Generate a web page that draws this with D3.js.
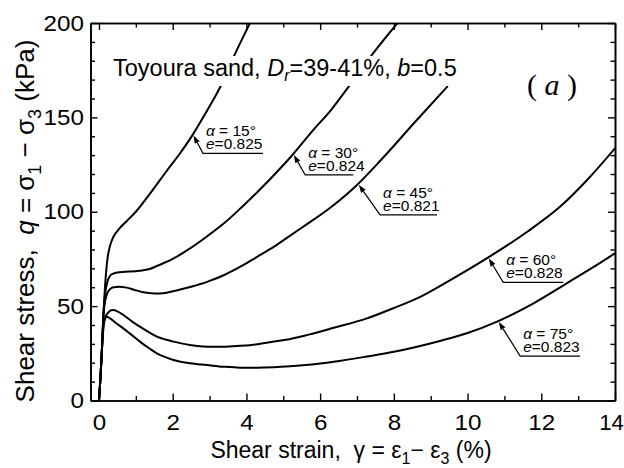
<!DOCTYPE html>
<html>
<head>
<meta charset="utf-8">
<script src="https://cdn.jsdelivr.net/npm/d3@7"></script>
<style>
  body { margin: 0; background: #fff; }
  svg { display: block; }
  text { white-space: pre; }
</style>
</head>
<body>
<svg id="chart" width="624" height="468"></svg>
<script>
// Shear strain (%) and shear stress q (kPa) for each principal-stress direction α
const strain15 = [0, 0.04, 0.08, 0.12, 0.17, 0.23, 0.3, 0.4, 0.55, 0.75, 1.0, 1.4, 1.85, 2.2, 2.55, 2.9, 3.3, 3.7, 4.1];
const stress15 = [0, 12, 27, 45, 62, 75, 82, 87, 91, 95, 100, 110, 122, 131, 141, 152.5, 166.5, 184, 200];

const strain30 = [0, 0.04, 0.08, 0.12, 0.17, 0.23, 0.3, 0.4, 0.57, 0.8, 1.1, 1.35, 1.6, 2.0, 2.45, 2.9, 3.4, 3.85, 4.3, 4.75, 5.2, 5.8, 6.3, 6.8, 7.4, 8.1];
const stress30 = [0, 12, 27, 45, 57, 63, 66, 67.3, 68, 68.3, 68.8, 69.5, 71.5, 75, 80.3, 86.5, 94, 102, 110.5, 119.5, 129, 143, 154, 167, 183, 200];

const strain45 = [0, 0.04, 0.08, 0.12, 0.17, 0.23, 0.3, 0.4, 0.55, 0.75, 0.95, 1.2, 1.5, 1.8, 2.1, 2.5, 2.95, 3.4, 3.85, 4.3, 4.75, 5.2, 5.5, 6.3, 7.0, 7.65, 8.55, 9.45];
const stress45 = [0, 12, 27, 45, 53, 57, 59, 60, 60.3, 59.8, 58.7, 57.3, 56.7, 57, 58.3, 60.3, 63, 66.5, 71, 76.2, 81.5, 87.5, 91.5, 102.5, 114.2, 127.4, 147, 166.3];

const strain60 = [0, 0.04, 0.08, 0.12, 0.17, 0.25, 0.33, 0.4, 0.5, 0.66, 0.9, 1.11, 1.35, 1.57, 1.8, 2.02, 2.47, 2.93, 3.38, 3.83, 4.29, 4.74, 5.19, 5.69, 6.37, 7.27, 8.0, 8.63, 9.53, 10.52, 11.62, 12.53, 13.3, 14.0];
const stress60 = [0, 12, 27, 40, 44, 46.5, 47.8, 47.9, 47.2, 45.3, 41.8, 39.1, 36.2, 33.8, 32.3, 31.2, 29.4, 28.5, 28.5, 29, 29.8, 31.2, 32.6, 34.9, 38.5, 43.5, 49, 54.1, 63.8, 75.3, 89.4, 103, 118, 133.6];

const strain75 = [0, 0.04, 0.08, 0.12, 0.16, 0.21, 0.3, 0.45, 0.66, 0.9, 1.11, 1.35, 1.57, 1.8, 2.02, 2.47, 2.93, 3.38, 3.83, 4.29, 4.74, 5.19, 5.69, 6.37, 7.27, 8.0, 8.63, 9.3, 9.98, 10.8, 11.79, 12.69, 13.4, 14.0];
const stress75 = [0, 12, 27, 38, 43, 44.4, 43.5, 41.2, 38.2, 34.5, 31.2, 27.8, 25, 23, 21.5, 19.7, 18.8, 17.9, 17.4, 17.4, 17.6, 18.1, 18.9, 20.5, 23.3, 25.8, 28.5, 31.8, 35.6, 41.8, 51.5, 62.1, 70.5, 78];

// Callout labels: angle α (deg), void ratio e, and the strain where each arrow meets its curve
const calloutAlpha = ["15", "30", "45", "60", "75"];
const calloutVoid = ["0.825", "0.824", "0.821", "0.828", "0.823"];
const calloutStrain = [2.55, 5.27, 7.03, 10.56, 10.83];

// Tick values
const xMajorTicks = [0, 2, 4, 6, 8, 10, 12, 14];
const xMinorTicks = [1, 3, 5, 7, 9, 11, 13];
const yMajorTicks = [0, 50, 100, 150, 200];
const yMinorTicks = [10, 20, 30, 40, 60, 70, 80, 90, 110, 120, 130, 140, 160, 170, 180, 190];

// Callout geometry: leader offset (dx, dy) from the curve to the underline, underline length
const calloutLayout = [[10, 19, 60], [12, 21, 48], [22, 31, 57], [15, 25, 60], [22, 35, 60]];

const series = [
  { strain: strain15, stress: stress15 },
  { strain: strain30, stress: stress30 },
  { strain: strain45, stress: stress45 },
  { strain: strain60, stress: stress60 },
  { strain: strain75, stress: stress75 }
].map(s => ({ points: s.strain.map((v, i) => [v, s.stress[i]]) }));

const SANS = "'Liberation Sans', Arial, Helvetica, sans-serif";
const SERIF = "'Liberation Serif', 'Times New Roman', serif";

const svg = d3.select("#chart");
const plotLeft = 90.5, plotRight = 615, plotTop = 23, plotBottom = 400.5;

const x = d3.scaleLinear().domain([-0.23, 14]).range([plotLeft, plotRight]);
const y = d3.scaleLinear().domain([0, 200]).range([plotBottom, plotTop]);

svg.append("rect").attr("width", 624).attr("height", 468).attr("fill", "#fff");

svg.append("defs").append("clipPath").attr("id", "plot-clip")
  .append("rect").attr("x", plotLeft).attr("y", plotTop)
  .attr("width", plotRight - plotLeft).attr("height", plotBottom - plotTop);

// Curves
const line = d3.line().x(d => x(d[0])).y(d => y(d[1])).curve(d3.curveMonotoneX);
svg.append("g").attr("clip-path", "url(#plot-clip)")
  .selectAll("path").data(series).join("path")
  .attr("d", d => line(d.points))
  .attr("fill", "none").attr("stroke", "#000").attr("stroke-width", 2)
  .attr("stroke-linejoin", "round").attr("stroke-linecap", "round");

// Title with an opaque backing so the curves pass behind it
const titleG = svg.append("g");
const titleBg = titleG.append("rect").attr("fill", "#fff");
const title = titleG.append("text").attr("x", 113).attr("y", 76)
  .attr("font-family", SANS).attr("font-size", 23.5).attr("fill", "#000");
title.append("tspan").text("Toyoura sand, ");
title.append("tspan").attr("font-style", "italic").text("D");
title.append("tspan").attr("font-style", "italic").attr("font-size", 16).attr("dy", 5).text("r");
title.append("tspan").attr("dy", -5).text("=39-41%, ");
title.append("tspan").attr("font-style", "italic").text("b");
title.append("tspan").text("=0.5");
const tb = title.node().getBBox();
titleBg.attr("x", tb.x - 3).attr("y", tb.y + 1).attr("width", tb.width + 6).attr("height", tb.height + 1);

// Panel tag
const tag = svg.append("text").attr("x", 527).attr("y", 95)
  .attr("font-family", SERIF).attr("font-size", 30).attr("fill", "#000");
tag.append("tspan").text("( ");
tag.append("tspan").attr("font-style", "italic").text("a");
tag.append("tspan").text(" )");

// Axes
function styleAxis(g, hideText) {
  g.attr("font-family", SANS).attr("font-size", 22);
  g.selectAll("path.domain").attr("stroke", "#000").attr("stroke-width", 1.6);
  g.selectAll(".tick line").attr("stroke", "#000").attr("stroke-width", 1.4);
  if (hideText) g.selectAll(".tick text").remove();
  else g.selectAll(".tick text").attr("fill", "#000").attr("transform", "scale(1.1,1)");
}

svg.append("g").attr("transform", `translate(0,${plotBottom})`)
  .call(d3.axisBottom(x).tickValues(xMajorTicks).tickSizeInner(-7).tickSizeOuter(0).tickPadding(14).tickFormat(d3.format("d")))
  .call(g => styleAxis(g, false))
  // keep the last label inside the frame edge
  .call(g => g.selectAll(".tick text").filter(d => d === 14).attr("transform", null).attr("dx", -4));
svg.append("g").attr("transform", `translate(0,${plotBottom})`)
  .call(d3.axisBottom(x).tickValues(xMinorTicks).tickSizeInner(-4.5).tickSizeOuter(0).tickFormat(""))
  .call(g => styleAxis(g, true));
svg.append("g").attr("transform", `translate(0,${plotTop})`)
  .call(d3.axisTop(x).tickValues(xMajorTicks).tickSizeInner(-7).tickSizeOuter(0).tickFormat(""))
  .call(g => styleAxis(g, true));
svg.append("g").attr("transform", `translate(0,${plotTop})`)
  .call(d3.axisTop(x).tickValues(xMinorTicks).tickSizeInner(-4.5).tickSizeOuter(0).tickFormat(""))
  .call(g => styleAxis(g, true));

svg.append("g").attr("transform", `translate(${plotLeft},0)`)
  .call(d3.axisLeft(y).tickValues(yMajorTicks).tickSizeInner(-7).tickSizeOuter(0).tickPadding(6).tickFormat(d3.format("d")))
  .call(g => styleAxis(g, false));
svg.append("g").attr("transform", `translate(${plotLeft},0)`)
  .call(d3.axisLeft(y).tickValues(yMinorTicks).tickSizeInner(-4.5).tickSizeOuter(0).tickFormat(""))
  .call(g => styleAxis(g, true));
svg.append("g").attr("transform", `translate(${plotRight},0)`)
  .call(d3.axisRight(y).tickValues(yMajorTicks).tickSizeInner(-7).tickSizeOuter(0).tickFormat(""))
  .call(g => styleAxis(g, true));
svg.append("g").attr("transform", `translate(${plotRight},0)`)
  .call(d3.axisRight(y).tickValues(yMinorTicks).tickSizeInner(-4.5).tickSizeOuter(0).tickFormat(""))
  .call(g => styleAxis(g, true));

// Axis titles
const xTitle = svg.append("text").attr("x", 351).attr("y", 458).attr("text-anchor", "middle")
  .attr("font-family", SANS).attr("font-size", 23).attr("fill", "#000");
xTitle.append("tspan").text("Shear strain,  γ = ε");
xTitle.append("tspan").attr("font-size", 16).attr("dy", 6).text("1");
xTitle.append("tspan").attr("dy", -6).text("− ε");
xTitle.append("tspan").attr("font-size", 16).attr("dy", 6).text("3");
xTitle.append("tspan").attr("dy", -6).text(" (%)");

const yTitle = svg.append("text").attr("transform", "translate(34,221) rotate(-90)")
  .attr("text-anchor", "middle")
  .attr("font-family", SANS).attr("font-size", 26).attr("fill", "#000");
yTitle.append("tspan").text("Shear stress,  ");
yTitle.append("tspan").attr("font-style", "italic").text("q");
yTitle.append("tspan").text(" = σ");
yTitle.append("tspan").attr("font-size", 18).attr("dy", 7).text("1");
yTitle.append("tspan").attr("dy", -7).text(" − σ");
yTitle.append("tspan").attr("font-size", 18).attr("dy", 7).text("3");
yTitle.append("tspan").attr("dy", -7).text(" (kPa)");

// Callouts: arrow from the label's underline to its curve
function stressAt(points, s) {
  const i = d3.bisector(d => d[0]).left(points, s);
  if (i <= 0) return points[0][1];
  if (i >= points.length) return points[points.length - 1][1];
  const a = points[i - 1], b = points[i];
  return a[1] + (b[1] - a[1]) * (s - a[0]) / (b[0] - a[0]);
}

const callouts = svg.append("g");
calloutAlpha.forEach((alpha, i) => {
  const s = calloutStrain[i];
  const tx = x(s), ty = y(stressAt(series[i].points, s));
  const [dx, dy, len] = calloutLayout[i];
  const ux = tx + dx, uy = ty + dy;
  const dist = Math.hypot(dx, dy);
  const ex = dx / dist, ey = dy / dist;       // unit vector from tip toward underline
  const nx = -ey, ny = ex;
  const px = tx + ex * 1.2, py = ty + ey * 1.2; // arrow point, touching the curve
  const bx = px + ex * 8, by = py + ey * 8;     // arrowhead base
  const g = callouts.append("g");
  g.append("path")
    .attr("d", `M${px},${py}L${bx + nx * 2.8},${by + ny * 2.8}L${bx - nx * 2.8},${by - ny * 2.8}Z`)
    .attr("fill", "#000");
  g.append("path")
    .attr("d", `M${bx},${by}L${ux},${uy}L${ux + len},${uy}`)
    .attr("fill", "none").attr("stroke", "#000").attr("stroke-width", 1.2);
  const t = g.append("text")
    .attr("font-family", SANS).attr("font-size", 15.5).attr("fill", "#000");
  t.append("tspan").attr("x", ux + 3).attr("y", uy - 17).attr("font-style", "italic").text("α");
  t.append("tspan").text(" = " + alpha + "°");
  t.append("tspan").attr("x", ux + 3).attr("y", uy - 4).attr("font-style", "italic").text("e");
  t.append("tspan").text("=" + calloutVoid[i]);
});
</script>
</body>
</html>
